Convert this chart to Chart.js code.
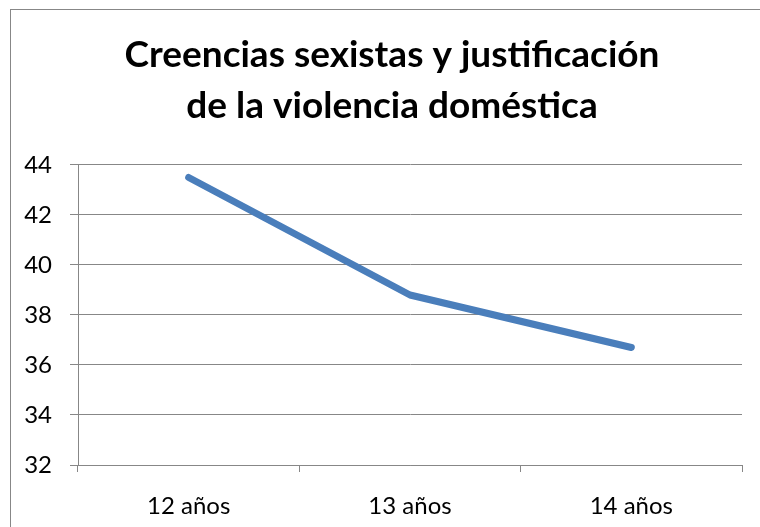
<!DOCTYPE html>
<html>
<head>
<meta charset="utf-8">
<script src="https://cdn.jsdelivr.net/npm/chart.js@4/dist/chart.umd.min.js"></script>
<style>
  html, body { margin: 0; padding: 0; background: #fff; overflow: hidden; }
  canvas { display: block; }
</style>
</head>
<body>
<canvas id="chart" width="784" height="527"></canvas>
<script>
// data
const categories = ["12 años", "13 años", "14 años"];
const values = [43.5, 38.8, 36.7];
const titleLines = ["Creencias sexistas y justificación", "de la violencia doméstica"];
const yMin = 32;
const yMax = 44;
const yStep = 2;

const gridColor = "#878787";
const lineColor = "#4A7EBB";

// outer frame of the chart object (right/bottom edges fall outside the window)
const framePlugin = {
  id: "frame",
  beforeDraw(chart) {
    const ctx = chart.ctx;
    ctx.save();
    ctx.strokeStyle = gridColor;
    ctx.lineWidth = 1;
    ctx.strokeRect(10.5, 9.5, 763, 600);
    ctx.restore();
  },
};

const ctx = document.getElementById("chart").getContext("2d");

new Chart(ctx, {
  type: "line",
  data: {
    labels: categories,
    datasets: [
      {
        label: "Serie",
        data: values,
        borderColor: lineColor,
        backgroundColor: lineColor,
        borderWidth: 7,
        borderCapStyle: "round",
        borderJoinStyle: "round",
        pointRadius: 0,
        tension: 0,
        fill: false,
      },
    ],
  },
  options: {
    responsive: false,
    animation: false,
    devicePixelRatio: 1,
    layout: { padding: 0 },
    plugins: {
      legend: { display: false },
      tooltip: { enabled: false },
      title: {
        display: true,
        text: titleLines,
        color: "#000",
        font: { family: "Lato", size: 37, weight: "bold", lineHeight: 1.378 },
        padding: { top: 29.5, bottom: 33.5 },
      },
    },
    scales: {
      x: {
        offset: true,
        grid: {
          offset: true,
          drawOnChartArea: false,
          drawTicks: true,
          tickLength: 7,
          color: gridColor,
        },
        border: { display: true, color: gridColor },
        ticks: {
          color: "#000",
          font: { family: "Lato", size: 24 },
          padding: 20,
          maxRotation: 0,
        },
        afterFit: (scale) => {
          scale.height = 62;
        },
      },
      y: {
        min: yMin,
        max: yMax,
        grid: {
          color: gridColor,
          tickLength: 8,
        },
        border: { display: true, color: gridColor },
        ticks: {
          stepSize: yStep,
          color: "#000",
          font: { family: "Lato", size: 24 },
          padding: 18,
        },
        afterFit: (scale) => {
          scale.width = 78;
        },
      },
      // empty spacer on the right so the plot ends where the reference does
      spacer: {
        type: "linear",
        position: "right",
        display: true,
        grid: { display: false },
        border: { display: false },
        ticks: { display: false },
        afterFit: (scale) => {
          scale.width = 42;
        },
      },
    },
  },
  plugins: [framePlugin],
});
</script>
</body>
</html>
